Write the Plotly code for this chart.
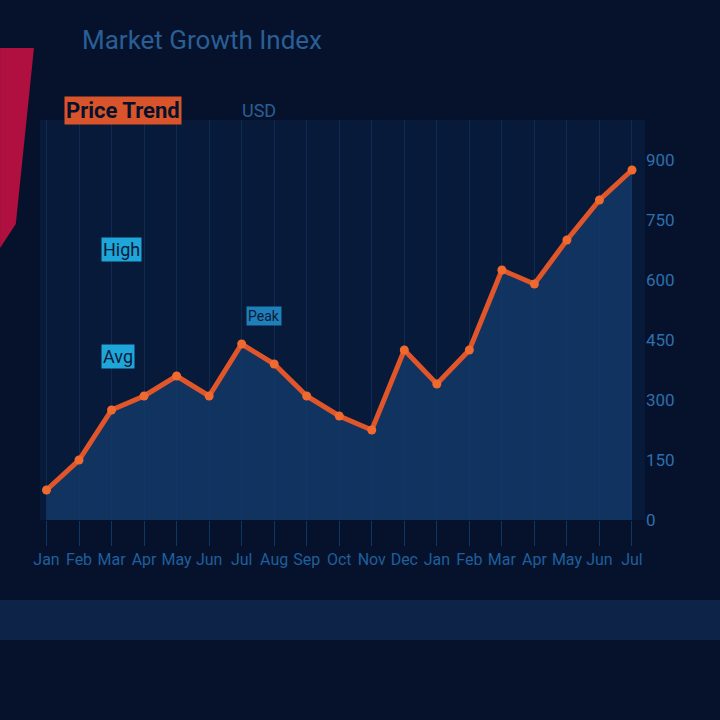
import plotly.graph_objects as go

# Data (approximate)
periods = ["Jan", "Feb", "Mar", "Apr", "May", "Jun", "Jul", "Aug", "Sep", "Oct",
           "Nov", "Dec", "Jan", "Feb", "Mar", "Apr", "May", "Jun", "Jul"]
price = [7.5, 15, 27.5, 31, 36, 31, 44, 39, 31, 26, 22.5, 42.5, 34, 42.5, 62.5, 59, 70, 80, 87.5]
y_ticks = [0, 15, 30, 45, 60, 75, 90]
y_tick_labels = ["0", "150", "300", "450", "600", "750", "900"]

fig = go.Figure()

fig.add_trace(go.Scatter(
    x=list(range(len(periods))), y=price,
    mode="lines+markers",
    line=dict(color="#e0562a", width=5, shape="linear"),
    marker=dict(size=9, color="#f06a30"),
    fill="tozeroy", fillcolor="rgba(20,60,110,0.75)",
    name="Price",
    hoverinfo="skip",
))

fig.update_layout(
    width=720, height=720,
    paper_bgcolor="#06122b",
    plot_bgcolor="#071a3a",
    margin=dict(l=40, r=75, t=120, b=200),
    showlegend=False,
    font=dict(family="Roboto", color="#2a6aa8"),
    xaxis=dict(
        tickmode="array", tickvals=list(range(len(periods))), ticktext=periods,
        tickfont=dict(size=16, color="#1f5f9c"),
        showgrid=True, gridcolor="rgba(40,90,150,0.25)",
        zeroline=False, range=[-0.2, 18.4],
        ticks="outside", ticklen=25, tickcolor="#0f3766",
    ),
    yaxis=dict(
        side="right", tickmode="array", tickvals=y_ticks, ticktext=y_tick_labels,
        tickfont=dict(size=17, color="#2d6fae"),
        showgrid=False, zeroline=False, range=[0, 100],
    ),
    shapes=[
        dict(type="path", xref="paper", yref="paper",
             path="M -0.066 1.18 L -0.01 1.18 L -0.04 0.74 L -0.066 0.68 Z",
             fillcolor="#b0103f", line=dict(width=0)),
        dict(type="rect", xref="paper", yref="paper",
             x0=-0.066, x1=1.124, y0=-0.30, y1=-0.20,
             fillcolor="rgba(30,80,140,0.30)", line=dict(width=0), layer="below"),
    ],
    annotations=[
        dict(text="Market Growth Index", xref="paper", yref="paper", x=0.066, y=1.2,
             xanchor="left", yanchor="middle", showarrow=False,
             font=dict(size=26, color="#2a5f96")),
        dict(text="<b>Price Trend</b>", xref="paper", yref="paper", x=0.04, y=1.025,
             xanchor="left", yanchor="middle", showarrow=False,
             font=dict(size=22, color="#06122b"), bgcolor="#d9542a"),
        dict(text="USD", xref="paper", yref="paper", x=0.33, y=1.025,
             xanchor="left", yanchor="middle", showarrow=False,
             font=dict(size=18, color="#2a5f96")),
        dict(text="High", xref="paper", yref="paper", x=0.1, y=0.675,
             xanchor="left", yanchor="middle", showarrow=False,
             font=dict(size=18, color="#0a1a3a"), bgcolor="#1ea6d8"),
        dict(text="Avg", xref="paper", yref="paper", x=0.1, y=0.41,
             xanchor="left", yanchor="middle", showarrow=False,
             font=dict(size=18, color="#0a1a3a"), bgcolor="#1ea6d8"),
        dict(text="Peak", xref="paper", yref="paper", x=0.34, y=0.51,
             xanchor="left", yanchor="middle", showarrow=False,
             font=dict(size=14, color="#0a1a3a"), bgcolor="#1f7fb8"),
    ],
)

fig.write_html("out.html", config={"displayModeBar": False},
               post_script="document.body.style.margin='0';")
